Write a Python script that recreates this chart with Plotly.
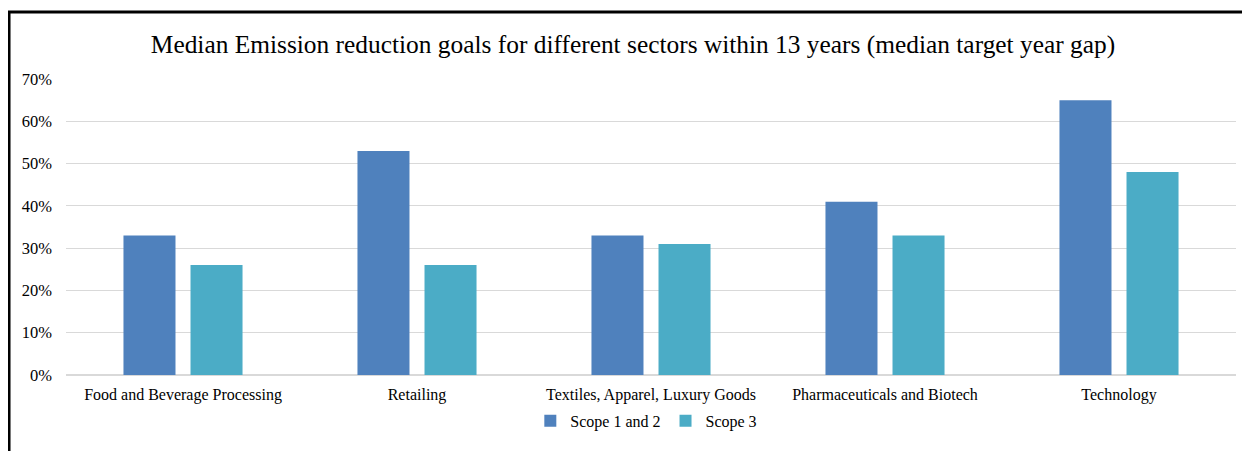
import plotly.graph_objects as go

categories = ["Food and Beverage Processing", "Retailing", "Textiles, Apparel, Luxury Goods",
              "Pharmaceuticals and Biotech", "Technology"]
scope12 = [0.33, 0.53, 0.33, 0.41, 0.65]
scope3 = [0.26, 0.26, 0.31, 0.33, 0.48]

FONT = "Liberation Serif, Times New Roman, serif"

fig = go.Figure()
fig.add_trace(go.Bar(x=categories, y=scope12, name="Scope 1 and 2", marker=dict(color="#4F81BD", line=dict(width=0))))
fig.add_trace(go.Bar(x=categories, y=scope3, name="Scope 3", marker=dict(color="#4BACC6", line=dict(width=0))))

fig.update_layout(
    width=1250, height=451,
    margin=dict(l=58, r=22, t=71, b=84),
    paper_bgcolor="white", plot_bgcolor="white",
    barmode="group", bargap=0.427, bargroupgap=0.224,
    font=dict(family=FONT, size=16, color="#000000"),
    title=dict(text="Median Emission reduction goals for different sectors within 13 years (median target year gap)",
               x=0.5, xanchor="center", y=0.92, yanchor="middle",
               font=dict(family=FONT, size=25.4, color="#000000")),
    legend=dict(orientation="h", x=0.496, xanchor="center", y=-0.155, yanchor="middle",
                font=dict(family=FONT, size=16), itemwidth=30, traceorder="normal"),
    showlegend=True,
)
fig.update_yaxes(range=[0, 0.7], dtick=0.1, tickformat=".0%", showgrid=True, gridcolor="#D9D9D9",
                 gridwidth=1, zeroline=True, zerolinecolor="#D9D9D9", showline=False, ticks="",
                 ticklabelstandoff=13, tickfont=dict(family=FONT, size=16.5))
fig.update_xaxes(showline=False, ticks="", ticklabelstandoff=8, tickfont=dict(family=FONT, size=16))

fig.add_shape(type="rect", xref="paper", yref="paper",
              x0=-0.0487, x1=1.2, y0=-0.6, y1=1.226,
              line=dict(color="black", width=3), fillcolor="rgba(0,0,0,0)", layer="above")

fig.write_html("out.html")
